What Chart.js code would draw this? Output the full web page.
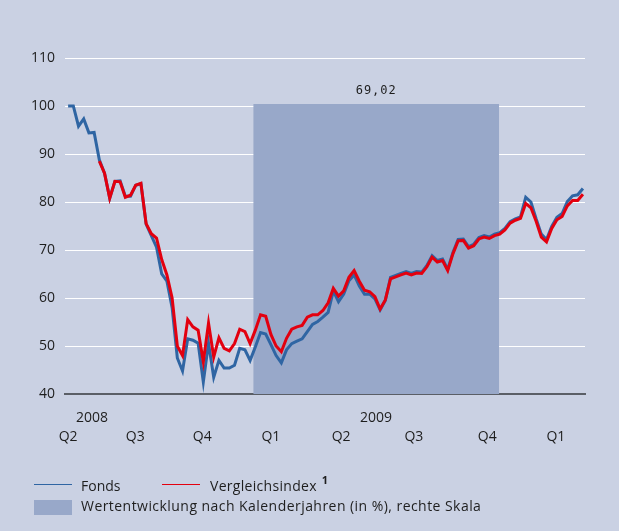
<!DOCTYPE html>
<html lang="de">
<head>
    <meta charset="UTF-8">
    <title>Fonds vs. Vergleichsindex</title>
    <script src="https://cdn.jsdelivr.net/npm/chart.js"></script>
    <style>
        html, body {
            margin: 0;
            padding: 0;
            background-color: #cad1e3;
        }
        #wrap {
            width: 619px;
            height: 531px;
        }
    </style>
</head>
<body>
    <div id="wrap"><canvas id="myChart" width="619" height="531"></canvas></div>
    <script>
        // weekly values, week 0 = start of Q2 2008
        const fondsData = [100, 100, 95.8, 97.3, 94.4, 94.5, 88.8, 86, 80.8, 84.3,
            84.4, 81.2, 81.2, 83.5, 83.8, 75.4, 73, 70.6, 65, 63.5,
            58, 47.5, 44.8, 51.5, 51.2, 50.6, 42.5, 50.6, 43.5, 47,
            45.4, 45.4, 46, 49.5, 49.2, 47, 49.8, 52.8, 52.5, 50.3,
            48, 46.5, 49.2, 50.5, 51, 51.5, 53, 54.5, 55.1, 56,
            57, 61.5, 59.2, 60.8, 63.6, 64.8, 62.5, 60.8, 60.8, 59.8,
            57.5, 59.5, 64.3, 64.7, 65.1, 65.5, 65.1, 65.5, 65.4, 66.8,
            68.8, 67.8, 68.1, 66, 69.5, 72.2, 72.3, 70.7, 71.2, 72.6,
            73, 72.7, 73.3, 73.6, 74.5, 75.9, 76.5, 76.9, 81, 80,
            76.5, 73.3, 72.2, 74.9, 76.8, 77.6, 80.1, 81.3, 81.5, 82.8];
        const indexData = [null, null, null, null, null, null, 88.5, 86, 80.8, 84.3,
            84.2, 81, 81.4, 83.5, 83.9, 75.5, 73.4, 72.5, 68, 64.8,
            60, 50, 48, 55.5, 54, 53.3, 46.7, 54.8, 47.7, 51.7,
            49.5, 49, 50.5, 53.5, 53, 50.5, 53.3, 56.5, 56.2, 52.4,
            50, 48.8, 51.6, 53.5, 54, 54.3, 56, 56.5, 56.5, 57.4,
            59, 62, 60.4, 61.5, 64.3, 65.7, 63.5, 61.6, 61.3, 60.3,
            57.7, 59.6, 64, 64.4, 64.8, 65.2, 64.8, 65.2, 65.1, 66.5,
            68.5, 67.5, 67.8, 65.7, 69.2, 71.9, 72, 70.4, 70.9, 72.3,
            72.7, 72.4, 73, 73.3, 74.2, 75.6, 76.2, 76.6, 79.7, 78.8,
            76, 72.7, 71.7, 74.5, 76.3, 77, 79.2, 80.3, 80.3, 81.6];

        // calendar year performance bar (right scale, hidden)
        const barYears = ['2009'];
        const barStart = [35.6];
        const barEnd = [82.9];
        const barValues = [69.02];

        // x axis labels
        const quarterLabels = ['Q2', 'Q3', 'Q4', 'Q1', 'Q2', 'Q3', 'Q4', 'Q1'];
        const quarterPos = [0, 12.9, 25.8, 39, 52.5, 66.5, 80.6, 93.8];
        const yearLabels = ['2008', '2009'];
        const yearPos = [4.6, 59.2];
        const yTicks = [40, 50, 60, 70, 80, 90, 100, 110];

        const weeks = fondsData.map((v, i) => i);
        const FONT = '"Open Sans", "DejaVu Sans", sans-serif';

        const extras = {
            id: 'extras',
            afterDraw(chart) {
                const ctx = chart.ctx;
                const xs = chart.scales.x;
                const y2 = chart.scales.y2;
                ctx.save();
                ctx.fillStyle = '#1e1e1e';
                ctx.textBaseline = 'middle';

                // year labels above the quarters
                ctx.font = '14px ' + FONT;
                ctx.textAlign = 'center';
                yearLabels.forEach((t, i) => ctx.fillText(t, xs.getPixelForValue(yearPos[i]), 418));

                // value over the bar
                ctx.font = '12px "DejaVu Sans Mono", monospace';
                ctx.letterSpacing = '1px';
                barValues.forEach((v, i) => {
                    const cx = (xs.getPixelForValue(barStart[i]) + xs.getPixelForValue(barEnd[i])) / 2;
                    ctx.fillText(v.toFixed(2).replace('.', ','), cx, y2.getPixelForValue(v) - 13);
                });
                ctx.letterSpacing = '0px';

                // legend
                ctx.font = '14px ' + FONT;
                ctx.textAlign = 'left';
                const ds = chart.data.datasets;
                ctx.lineWidth = 1;
                ctx.strokeStyle = ds[0].borderColor;
                ctx.beginPath(); ctx.moveTo(34, 484.5); ctx.lineTo(72, 484.5); ctx.stroke();
                ctx.fillText(ds[0].label, 81, 487);
                ctx.strokeStyle = ds[1].borderColor;
                ctx.beginPath(); ctx.moveTo(162, 484.5); ctx.lineTo(200, 484.5); ctx.stroke();
                ctx.letterSpacing = '0.3px';
                ctx.fillText(ds[1].label, 210, 487);
                const w = ctx.measureText(ds[1].label).width;
                ctx.letterSpacing = '0px';
                ctx.font = 'bold 11px ' + FONT;
                ctx.fillText('1', 210 + w + 5, 481);
                ctx.font = '14px ' + FONT;
                ctx.fillStyle = ds[2].backgroundColor;
                ctx.fillRect(34, 500, 38, 15);
                ctx.fillStyle = '#1e1e1e';
                ctx.letterSpacing = '0.45px';
                ctx.fillText(ds[2].label, 81, 507);
                ctx.restore();
            }
        };

        const ctx = document.getElementById('myChart').getContext('2d');
        const myChart = new Chart(ctx, {
            type: 'line',
            data: {
                datasets: [{
                    label: 'Fonds',
                    data: weeks.map(w => ({ x: w, y: fondsData[w] })),
                    borderColor: '#2f65a3',
                    borderWidth: 3,
                    pointRadius: 0,
                    tension: 0,
                    order: 2,
                    yAxisID: 'y'
                }, {
                    label: 'Vergleichsindex',
                    data: weeks.map(w => ({ x: w, y: indexData[w] })),
                    borderColor: '#e3000f',
                    borderWidth: 3,
                    pointRadius: 0,
                    tension: 0,
                    order: 1,
                    yAxisID: 'y'
                }, {
                    label: 'Wertentwicklung nach Kalenderjahren (in %), rechte Skala',
                    data: [{ x: barStart[0], y: barValues[0] }, { x: barEnd[0], y: barValues[0] }],
                    borderWidth: 0,
                    borderColor: 'rgba(0,0,0,0)',
                    backgroundColor: '#98a8c9',
                    fill: 'origin',
                    pointRadius: 0,
                    order: 3,
                    yAxisID: 'y2'
                }]
            },
            options: {
                responsive: false,
                animation: false,
                events: [],
                layout: { padding: { top: 58, right: 34, left: 0, bottom: 0 } },
                plugins: {
                    legend: { display: false },
                    tooltip: { enabled: false }
                },
                scales: {
                    x: {
                        type: 'linear',
                        min: -0.6,
                        max: 99.4,
                        afterBuildTicks: (scale) => {
                            scale.ticks = quarterPos.map(v => ({ value: v }));
                        },
                        afterFit: (scale) => { scale.height = 137; },
                        ticks: {
                            autoSkip: false,
                            maxRotation: 0,
                            padding: 35,
                            color: '#1e1e1e',
                            font: { family: FONT, size: 14 },
                            callback: (v, i) => quarterLabels[i]
                        },
                        grid: { display: false, drawTicks: false },
                        border: { display: true, color: '#5a5e66', width: 2 }
                    },
                    y: {
                        min: 40,
                        max: 110,
                        afterBuildTicks: (scale) => {
                            scale.ticks = yTicks.map(v => ({ value: v }));
                        },
                        afterFit: (scale) => { scale.width = 65; },
                        ticks: {
                            padding: 10,
                            color: '#1e1e1e',
                            font: { family: FONT, size: 14 }
                        },
                        grid: { color: '#ffffff', lineWidth: 1, drawTicks: false },
                        border: { display: false }
                    },
                    y2: {
                        display: false,
                        position: 'right',
                        min: 0,
                        max: 80
                    }
                }
            },
            plugins: [extras]
        });
    </script>
</body>
</html>
